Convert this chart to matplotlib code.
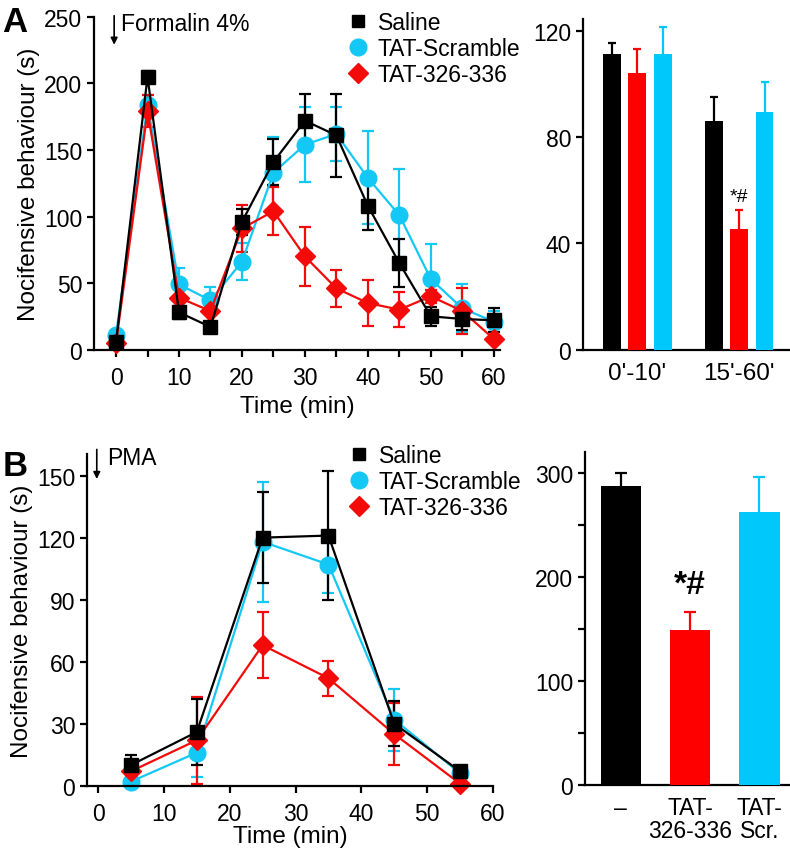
import matplotlib
matplotlib.use('Agg')
import matplotlib.pyplot as plt
from matplotlib.lines import Line2D

plt.rcParams['font.family'] = ['Liberation Sans', 'DejaVu Sans']

BLACK = '#000000'
CYAN = '#14C8F5'
RED = '#F50A0A'
BAR_CYAN = '#00C8FA'
BAR_RED = '#FF0000'

# ---------------- panel A : formalin time course ----------------
time_a = [0, 5, 10, 15, 20, 25, 30, 35, 40, 45, 50, 55, 60]
saline_a = [6, 205, 28, 17, 96, 141, 172, 161, 108, 65, 25, 23, 22]
saline_a_err = [3, 4, 5, 4, 10, 17, 20, 31, 18, 18, 7, 8, 9]
scr_a = [11, 184, 49, 37, 66, 133, 154, 162, 129, 101, 53, 31, 21]
scr_a_err = [3, 7, 12, 10, 14, 27, 28, 20, 35, 35, 26, 18, 8]
tat_a = [5, 179, 39, 29, 91, 104, 70, 46, 35, 30, 40, 29, 8]
tat_a_err = [2, 12, 7, 10, 18, 18, 22, 14, 17, 13, 5, 17, 2]

# panel A bars: phase I (0'-10') and phase II (15'-60')
phases = ["0'-10'", "15'-60'"]
bar_saline_a = [111.5, 86]
bar_saline_a_err = [4, 9]
bar_tat_a = [104.3, 45.4]
bar_tat_a_err = [9, 7]
bar_scr_a = [111.5, 89.6]
bar_scr_a_err = [10, 11]

# ---------------- panel B : PMA time course ----------------
time_b = [5, 15, 25, 35, 45, 55]
saline_b = [10, 26, 120, 121, 30, 7]
saline_b_err = [5, 16, 22, 31, 11, 2]
scr_b = [2, 16, 118, 107, 32, 6]
scr_b_err = [2, 12, 29, 14, 15, 2]
tat_b = [7, 22, 68, 52, 25, 1]
tat_b_err = [3, 21, 16, 8.5, 15, 1]

bar_labels_b = ['\u2013', 'TAT-\n326-336', 'TAT-\nScr.']
bar_b = [287.6, 148.7, 262.3]
bar_b_err = [12, 17.6, 34]

LW = 1.6
TICK_FS = 16.5
LABEL_FS = 17.5

fig = plt.figure(figsize=(7.9, 8.53), dpi=100)


def style_axes(ax):
    for s in ['top', 'right']:
        ax.spines[s].set_visible(False)
    for s in ['left', 'bottom']:
        ax.spines[s].set_linewidth(LW)
    ax.tick_params(direction='out', width=LW, length=5, labelsize=TICK_FS)
    ax.tick_params(which='minor', direction='out', width=LW, length=5)


def time_course(ax, t, series):
    for y, err, col, mk, ms in series:
        ax.errorbar(t, y, yerr=err, color=col, marker=mk, markersize=ms,
                    linewidth=LW, elinewidth=LW, capsize=4.5, capthick=LW,
                    clip_on=False)
    ax.tick_params(axis='x', pad=7)


def legend(ax, anchor):
    handles = [Line2D([], [], color=BLACK, marker='s', ls='none', markersize=9),
               Line2D([], [], color=CYAN, marker='o', ls='none', markersize=12),
               Line2D([], [], color=RED, marker='D', ls='none', markersize=10)]
    ax.legend(handles, ['Saline', 'TAT-Scramble', 'TAT-326-336'], loc='upper left',
              bbox_to_anchor=anchor, frameon=False, fontsize=TICK_FS,
              handlelength=0.8, handletextpad=0.45, labelspacing=0.12,
              borderaxespad=0)


def bars(ax, pos, vals, errs, col, width, cap):
    ax.bar(pos, vals, width=width, color=col, zorder=3)
    ax.errorbar(pos, vals, yerr=errs, fmt='none', ecolor=col,
                elinewidth=LW, capsize=cap, capthick=LW, zorder=2)


# ---- A line
ax1 = fig.add_axes([0.119, 0.589, 0.514, 0.390])
style_axes(ax1)
time_course(ax1, time_a, [
    (scr_a, scr_a_err, CYAN, 'o', 12),
    (tat_a, tat_a_err, RED, 'D', 10),
    (saline_a, saline_a_err, BLACK, 's', 10),
])
ax1.set_xlim(-3.5, 61)
ax1.set_ylim(0, 250)
ax1.set_xticks(range(0, 61, 10))
ax1.set_xticks(range(5, 60, 10), minor=True)
ax1.set_yticks(range(0, 251, 50))
ax1.set_xlabel('Time (min)', fontsize=LABEL_FS, labelpad=4)
ax1.set_ylabel('Nocifensive behaviour (s)', fontsize=LABEL_FS, labelpad=3)
ax1.annotate('', xy=(-0.3, 227), xytext=(-0.3, 253),
             arrowprops=dict(arrowstyle='-|>', color='black', lw=1.2,
                             mutation_scale=10), annotation_clip=False)
ax1.text(0.8, 254, 'Formalin 4%', fontsize=TICK_FS, va='top', ha='left')
legend(ax1, (0.605, 1.045))

# ---- A bars
ax2 = fig.add_axes([0.738, 0.589, 0.262, 0.3875])
style_axes(ax2)
w = 0.176
for off, vals, errs, col in [(-0.25, bar_saline_a, bar_saline_a_err, BLACK),
                             (0.0, bar_tat_a, bar_tat_a_err, BAR_RED),
                             (0.25, bar_scr_a, bar_scr_a_err, BAR_CYAN)]:
    pos = [i + off for i in range(len(phases))]
    bars(ax2, pos, vals, errs, col, w, 3)
ax2.set_xlim(-0.53, 1.5)
ax2.set_ylim(0, 124.5)
ax2.set_yticks([0, 40, 80, 120])
ax2.set_xticks(range(len(phases)))
ax2.set_xticklabels(phases, fontsize=LABEL_FS)
ax2.tick_params(axis='x', length=0, pad=9)
ax2.text(1.0, 54.5, '*#', ha='center', va='bottom', fontsize=14)

# ---- B line
ax3 = fig.add_axes([0.110, 0.0777, 0.514, 0.389])
style_axes(ax3)
time_course(ax3, time_b, [
    (scr_b, scr_b_err, CYAN, 'o', 12),
    (tat_b, tat_b_err, RED, 'D', 10),
    (saline_b, saline_b_err, BLACK, 's', 10),
])
ax3.set_xlim(-1.7, 60)
ax3.set_ylim(0, 160.5)
ax3.set_xticks(range(0, 61, 10))
ax3.set_yticks(range(0, 151, 30))
ax3.set_xlabel('Time (min)', fontsize=LABEL_FS, labelpad=0)
ax3.set_ylabel('Nocifensive behaviour (s)', fontsize=LABEL_FS, labelpad=3)
ax3.annotate('', xy=(-0.2, 147), xytext=(-0.2, 164),
             arrowprops=dict(arrowstyle='-|>', color='black', lw=1.2,
                             mutation_scale=10), annotation_clip=False)
ax3.text(1.3, 164.5, 'PMA', fontsize=TICK_FS, va='top', ha='left')
legend(ax3, (0.625, 1.057))

# ---- B bars
ax4 = fig.add_axes([0.7405, 0.0785, 0.2595, 0.3905])
style_axes(ax4)
cols_b = [BLACK, BAR_RED, BAR_CYAN]
pos_b = list(range(len(bar_b)))
for p, v, e, c in zip(pos_b, bar_b, bar_b_err, cols_b):
    bars(ax4, [p], [v], [e], c, 0.58, 4)
ax4.set_xlim(-0.515, 2.44)
ax4.set_ylim(0, 320)
ax4.set_yticks([0, 100, 200, 300])
ax4.set_yticks([50, 150, 250], minor=True)
ax4.set_xticks(pos_b)
ax4.set_xticklabels(bar_labels_b, fontsize=TICK_FS, linespacing=1.0)
ax4.tick_params(axis='x', length=0, pad=8)
ax4.text(1.0, 178, '*#', ha='center', va='bottom', fontsize=24, fontweight='bold')

fig.text(0.003, 0.993, 'A', fontsize=25, fontweight='bold', va='top', ha='left')
fig.text(0.003, 0.472, 'B', fontsize=25, fontweight='bold', va='top', ha='left')

fig.savefig('out.png', dpi=100)
